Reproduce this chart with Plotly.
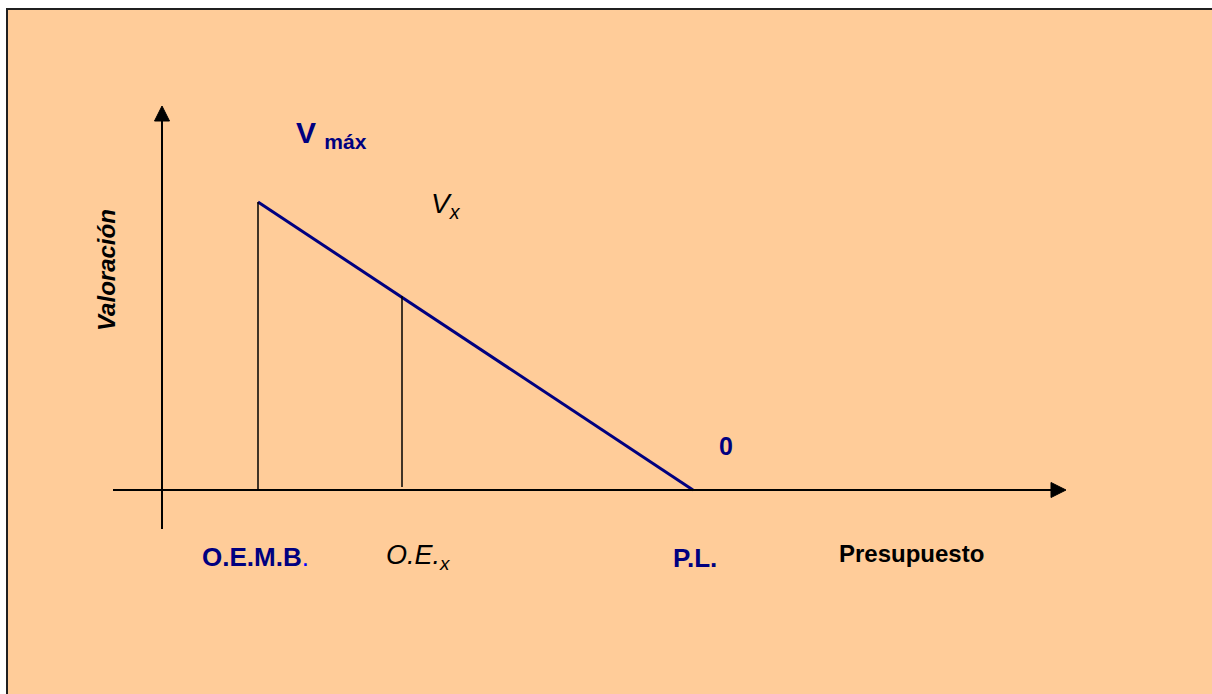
"""
Valoracion vs presupuesto diagram
"""
import plotly.graph_objects as go

# puntos sobre el eje de presupuesto (distancia desde el origen)
budget_labels = ["O.E.M.B", "O.E.x", "P.L."]
budget_points = [96, 240, 531]

# valoraciones
v_max = 288
v_x = 194
v_zero = 0

# extremos de los ejes
x_axis_span = [-49, 889]
y_axis_span = [-39, 369]
arrow_len = 15
arrow_half = 7.5

NAVY = "#000080"
BOLD_FONT = "Liberation Sans, Arial, sans-serif"

fig = go.Figure()

# recta de valoracion
fig.add_trace(go.Scatter(
    x=[budget_points[0], budget_points[2]],
    y=[v_max, v_zero],
    mode="lines",
    line=dict(color=NAVY, width=3),
    hoverinfo="skip",
))

# verticales en O.E.M.B. y O.E.x
fig.add_trace(go.Scatter(
    x=[budget_points[0], budget_points[0], None, budget_points[1], budget_points[1]],
    y=[0, v_max, None, 3, v_x],
    mode="lines",
    line=dict(color="black", width=1.5),
    hoverinfo="skip",
))

shapes = [
    # fondo con borde
    dict(type="rect", xref="paper", yref="paper",
         x0=7 / 1212, x1=1.01, y0=-0.01, y1=1 - 9 / 694,
         fillcolor="#FFCC99", line=dict(color="#202020", width=2), layer="below"),
    # eje horizontal
    dict(type="line", x0=x_axis_span[0], x1=x_axis_span[1], y0=0, y1=0,
         line=dict(color="black", width=2)),
    # eje vertical
    dict(type="line", x0=0, x1=0, y0=y_axis_span[0], y1=y_axis_span[1],
         line=dict(color="black", width=2)),
    # puntas de flecha
    dict(type="path",
         path=f"M {x_axis_span[1]},{-arrow_half} L {x_axis_span[1] + arrow_len},0 "
              f"L {x_axis_span[1]},{arrow_half} Z",
         fillcolor="black", line=dict(color="black", width=1)),
    dict(type="path",
         path=f"M {-arrow_half},{y_axis_span[1]} L 0,{y_axis_span[1] + arrow_len} "
              f"L {arrow_half},{y_axis_span[1]} Z",
         fillcolor="black", line=dict(color="black", width=1)),
]

annotations = [
    dict(x=132, y=356, text="<b>V <sub>máx</sub></b>",
         font=dict(family=BOLD_FONT, size=30, color=NAVY), xanchor="left"),
    dict(x=267, y=285, text="<i>V<sub>x</sub></i>",
         font=dict(family=BOLD_FONT, size=28, color="black"), xanchor="left"),
    dict(x=38, y=-67,
         text=f"<b>{budget_labels[0]}</b><span style='color:#0000FF'>.</span>",
         font=dict(family=BOLD_FONT, size=26, color=NAVY), xanchor="left"),
    dict(x=222, y=-67, text="<i>O.E.<sub>x</sub></i>",
         font=dict(family=BOLD_FONT, size=27, color="black"), xanchor="left"),
    dict(x=509, y=-68, text=f"<b>{budget_labels[2]}</b>",
         font=dict(family=BOLD_FONT, size=26, color=NAVY), xanchor="left"),
    dict(x=555, y=44, text=f"<b>{v_zero}</b>",
         font=dict(family=BOLD_FONT, size=25, color=NAVY), xanchor="left"),
    dict(x=675, y=-63, text="<b>Presupuesto</b>",
         font=dict(family=BOLD_FONT, size=24, color="black"), xanchor="left"),
    dict(x=-56, y=220, text="<b><i>Valoración</i></b>", textangle=-90,
         font=dict(family=BOLD_FONT, size=24, color="black"),
         xanchor="center"),
]
for a in annotations:
    a.update(showarrow=False, yanchor="middle", xref="x", yref="y")

fig.update_layout(
    width=1212, height=694,
    margin=dict(l=0, r=0, t=0, b=0),
    paper_bgcolor="white",
    plot_bgcolor="rgba(0,0,0,0)",
    showlegend=False,
    shapes=shapes,
    annotations=annotations,
    xaxis=dict(range=[-162, 1050], visible=False, fixedrange=True),
    yaxis=dict(range=[-204, 490], visible=False, fixedrange=True),
)

# sin margen del body para que la figura ocupe toda la ventana
fig.write_html("out.html",
               config={"displayModeBar": False},
               post_script="document.body.style.margin='0';document.body.style.overflow='hidden';")
